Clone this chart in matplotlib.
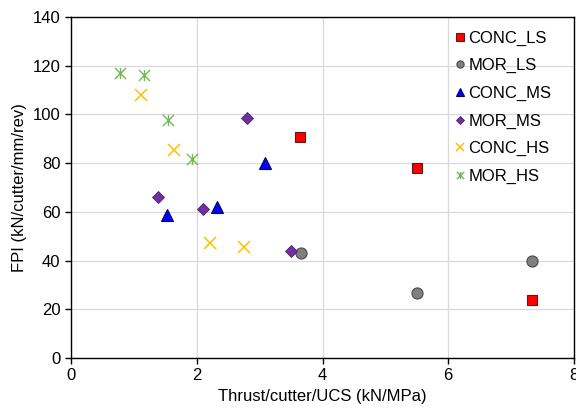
import matplotlib
matplotlib.use("Agg")
import matplotlib.pyplot as plt
from matplotlib.path import Path

plt.rcParams['font.family'] = ['Liberation Sans', 'DejaVu Sans']

conc_ls_x = [3.65, 5.50, 7.33]
conc_ls_y = [90.6, 78.1, 23.9]
mor_ls_x = [3.66, 5.50, 7.33]
mor_ls_y = [43.1, 26.8, 40.0]
conc_ms_x = [1.53, 2.32, 3.08]
conc_ms_y = [58.8, 61.9, 80.2]
mor_ms_x = [1.39, 2.10, 2.80, 3.50]
mor_ms_y = [66.3, 61.2, 98.7, 43.9]
conc_hs_x = [1.11, 1.64, 2.21, 2.75]
conc_hs_y = [108.0, 85.6, 47.1, 45.4]
mor_hs_x = [0.78, 1.16, 1.54, 1.93]
mor_hs_y = [117.1, 116.0, 97.6, 81.7]

# Excel-style star: X plus vertical bar
star = Path([(-1, -1), (1, 1), (-1, 1), (1, -1), (0, -1), (0, 1)],
            [Path.MOVETO, Path.LINETO, Path.MOVETO, Path.LINETO, Path.MOVETO, Path.LINETO])

fig = plt.figure(figsize=(5.76, 4.15), dpi=100)
ax = fig.add_axes([71/576, 1 - 358/415, (574-71)/576, (358-17)/415])

ax.plot(conc_ls_x, conc_ls_y, ls='none', marker='s', ms=7.8, mfc='#FF0000', mec='#5a1a1a', mew=0.8, label='CONC_LS', zorder=3)
ax.plot(mor_ls_x, mor_ls_y, ls='none', marker='o', ms=8, mfc='#7F7F7F', mec='#4a4a4a', mew=0.8, label='MOR_LS', zorder=3)
ax.plot(conc_ms_x, conc_ms_y, ls='none', marker='^', ms=8.3, mfc='#0000FF', mec='#00005a', mew=0.8, label='CONC_MS', zorder=3)
ax.plot(mor_ms_x, mor_ms_y, ls='none', marker='D', ms=6.3, mfc='#7030A0', mec='#4a2070', mew=0.6, label='MOR_MS', zorder=3)
ax.plot(conc_hs_x, conc_hs_y, ls='none', marker='x', ms=8, mec='#FFC000', mew=1.1, label='CONC_HS', zorder=3)
ax.plot(mor_hs_x, mor_hs_y, ls='none', marker=star, ms=8, mec='#77B55A', mew=1.0, label='MOR_HS', zorder=3)

ax.set_xlim(0, 8)
ax.set_ylim(0, 140)
ax.set_xticks([0, 2, 4, 6, 8])
ax.set_yticks(range(0, 141, 20))
ax.grid(True, color='#D9D9D9', lw=0.9)
ax.set_axisbelow(True)
for s in ax.spines.values():
    s.set_color('black')
    s.set_linewidth(1.0)
ax.tick_params(direction='out', length=4, width=1, labelsize=12, colors='black')
ax.set_xlabel('Thrust/cutter/UCS (kN/MPa)', fontsize=12)
ax.set_ylabel('FPI (kN/cutter/mm/rev)', fontsize=12)

ax.legend(loc='upper right', frameon=False, fontsize=12, markerscale=0.65,
          handlelength=0.6, handletextpad=0.2, labelspacing=0.75,
          bbox_to_anchor=(1 - 16/503, 1 - 7/341), borderaxespad=0)

fig.savefig('out.png', dpi=100)
